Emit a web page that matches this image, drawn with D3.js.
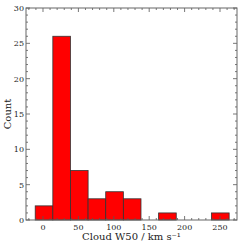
<!DOCTYPE html>
<html>
<head>
<meta charset="utf-8">
<script src="https://cdn.jsdelivr.net/npm/d3@7"></script>
<style>
body { margin: 0; background: #fff; }
text { font-family: "DejaVu Serif", "Liberation Serif", serif; fill: #222; }
</style>
</head>
<body>
<div id="chart"></div>
<script>
// histogram bins (edges in km/s) and counts
var binStart = -11;
var binWidth = 24.9;
var counts = [2, 26, 7, 3, 4, 3, 0, 1, 0, 0, 1];
var xTicks = [0, 50, 100, 150, 200, 250];
var yTicks = [0, 5, 10, 15, 20, 25, 30];

var width = 242;
var height = 246;
var margin = {left: 26, right: 5, top: 8, bottom: 26};

var bins = counts.map(function (c, i) {
    return {x0: binStart + i * binWidth, x1: binStart + (i + 1) * binWidth, n: c};
});

var xScale = d3.scaleLinear()
    .domain([-24, 274])
    .range([margin.left, width - margin.right]);

var yScale = d3.scaleLinear()
    .domain([0, 30])
    .range([height - margin.bottom, margin.top]);

var svg = d3.select("#chart")
    .append("svg")
        .attr("width", width)
        .attr("height", height);

svg.selectAll("rect.bar")
    .data(bins.filter(function (d) { return d.n > 0; }))
    .enter()
    .append("rect")
        .attr("class", "bar")
        .attr("x", function (d) { return xScale(d.x0); })
        .attr("y", function (d) { return yScale(d.n); })
        .attr("width", function (d) { return xScale(d.x1) - xScale(d.x0); })
        .attr("height", function (d) { return yScale(0) - yScale(d.n); })
        .attr("fill", "#ff0000")
        .attr("stroke", "#333")
        .attr("stroke-width", 0.8);

function minor(ticks, major) {
    return ticks.filter(function (t) { return Math.abs(t % major) > 1e-9; });
}

// ticks pointing inward on all four sides
var x0 = margin.left, x1 = width - margin.right;
var y0 = height - margin.bottom, y1 = margin.top;

var xMinor = minor(d3.range(-20, 275, 10), 50);
var yMinor = minor(d3.range(0, 31, 1), 5);

var tk = svg.append("g").attr("stroke", "#555").attr("stroke-width", 0.8);

xTicks.forEach(function (t) {
    tk.append("line").attr("x1", xScale(t)).attr("x2", xScale(t)).attr("y1", y0).attr("y2", y0 - 4);
    tk.append("line").attr("x1", xScale(t)).attr("x2", xScale(t)).attr("y1", y1).attr("y2", y1 + 4);
});
xMinor.forEach(function (t) {
    tk.append("line").attr("x1", xScale(t)).attr("x2", xScale(t)).attr("y1", y0).attr("y2", y0 - 2);
    tk.append("line").attr("x1", xScale(t)).attr("x2", xScale(t)).attr("y1", y1).attr("y2", y1 + 2);
});
yTicks.forEach(function (t) {
    tk.append("line").attr("y1", yScale(t)).attr("y2", yScale(t)).attr("x1", x0).attr("x2", x0 + 4);
    tk.append("line").attr("y1", yScale(t)).attr("y2", yScale(t)).attr("x1", x1).attr("x2", x1 - 4);
});
yMinor.forEach(function (t) {
    tk.append("line").attr("y1", yScale(t)).attr("y2", yScale(t)).attr("x1", x0).attr("x2", x0 + 2);
    tk.append("line").attr("y1", yScale(t)).attr("y2", yScale(t)).attr("x1", x1).attr("x2", x1 - 2);
});

// frame
svg.append("rect")
    .attr("x", x0)
    .attr("y", y1)
    .attr("width", x1 - x0)
    .attr("height", y0 - y1)
    .attr("fill", "none")
    .attr("stroke", "#666")
    .attr("stroke-width", 1);

svg.selectAll("text.xt")
    .data(xTicks)
    .enter()
    .append("text")
        .attr("class", "xt")
        .attr("x", function (d) { return xScale(d); })
        .attr("y", y0 + 10)
        .attr("text-anchor", "middle")
        .attr("font-size", 8)
        .text(function (d) { return d; });

svg.selectAll("text.yt")
    .data(yTicks)
    .enter()
    .append("text")
        .attr("class", "yt")
        .attr("x", x0 - 2)
        .attr("y", function (d) { return yScale(d) + 3; })
        .attr("text-anchor", "end")
        .attr("font-size", 8)
        .text(function (d) { return d; });

svg.append("text")
    .attr("text-anchor", "middle")
    .attr("transform", "translate(11," + ((y0 + y1) / 2) + ")rotate(-90)")
    .attr("font-size", 10)
    .text("Count");

svg.append("text")
    .attr("text-anchor", "middle")
    .attr("x", (x0 + x1) / 2)
    .attr("y", 240)
    .attr("font-size", 10)
    .text("Cloud W50 / km s\u207B\u00B9");
</script>
</body>
</html>
